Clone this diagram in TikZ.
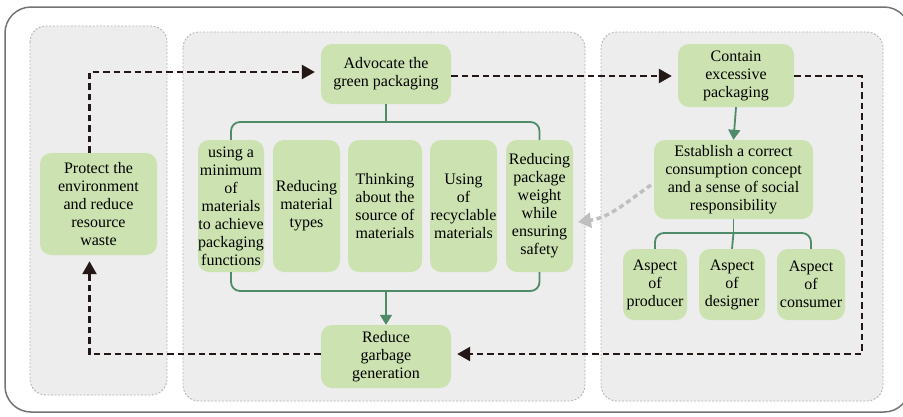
\documentclass[tikz,border=0pt]{standalone}
\usepackage{fontspec}
\setmainfont{Liberation Serif}
\usetikzlibrary{arrows.meta}
\definecolor{boxgreen}{HTML}{CCE3B1}
\definecolor{linegreen}{HTML}{4F8B68}
\definecolor{panelgray}{HTML}{EDEDED}
\definecolor{darkink}{HTML}{231815}
\newcommand{\fsz}{\fontsize{16}{18}\selectfont}
\tikzset{
  gbox/.style={fill=boxgreen, rounded corners=11pt, align=center, inner sep=0pt, font=\fsz, text=black},
  panel/.style={fill=panelgray, draw=gray!60, line width=0.9pt, dash pattern=on 1.8pt off 1.8pt, rounded corners=16pt},
  gline/.style={draw=linegreen, line width=1.8pt},
  garrow/.style={gline, -{Triangle[width=12pt,length=10pt]}},
  dline/.style={draw=darkink, line width=2.4pt, dash pattern=on 6.5pt off 4pt, -{Triangle[width=14pt,length=13pt]}, shorten >=6pt},
  grayarrow/.style={draw=gray!50, line width=3.5pt, dash pattern=on 5pt off 3.5pt, -{Triangle[width=15pt,length=13pt]}}
}
\begin{document}
\begin{tikzpicture}[x=1pt,y=-1pt]
\useasboundingbox (0,0) rectangle (903,416);
\fill[white] (0,0) rectangle (903,416);
% outer frame
\draw[draw=gray!90!black, line width=1.5pt, rounded corners=26pt] (5,7) rectangle (910,412);
% panels
\draw[panel] (30,26) rectangle (167,395);
\draw[panel] (183,32) rectangle (585,401);
\draw[panel] (601,32) rectangle (883,401);
% nodes
\node[gbox, minimum width=117pt, minimum height=102pt] (protect) at (98.5,204) {Protect the\\environment\\and reduce\\resource\\waste};
\node[gbox, minimum width=130pt, minimum height=60pt] (advocate) at (386,74) {Advocate the\\green packaging};
\node[gbox, minimum width=116pt, minimum height=63pt] (contain) at (736,75.5) {Contain\\excessive\\packaging};
\node[gbox, minimum width=159pt, minimum height=79pt] (establish) at (733.5,179.5) {Establish a correct\\consumption concept\\and a sense of social\\responsibility};
\node[gbox, minimum width=64pt, minimum height=71pt] (producer) at (655,284.5) {Aspect\\of\\producer};
\node[gbox, minimum width=66pt, minimum height=71pt] (designer) at (732,284.5) {Aspect\\of\\designer};
\node[gbox, minimum width=68pt, minimum height=71pt] (consumer) at (811,284.5) {Aspect\\of\\consumer};
\node[gbox, minimum width=130pt, minimum height=63pt] (reduce) at (386,356.5) {Reduce\\garbage\\generation};
\node[gbox, minimum width=66pt, minimum height=132pt] (box1) at (231,206) {using a\\minimum\\of\\materials\\to achieve\\packaging\\functions};
\node[gbox, minimum width=67pt, minimum height=132pt] (box2) at (306.5,206) {Reducing\\material\\types};
\node[gbox, minimum width=74pt, minimum height=132pt] (box3) at (385,206) {Thinking\\about the\\source of\\materials};
\node[gbox, minimum width=67pt, minimum height=132pt] (box4) at (463.5,206) {Using\\of\\recyclable\\materials};
\node[gbox, minimum width=67pt, minimum height=132pt] (box5) at (539.5,206) {Reducing\\package\\weight\\while\\ensuring\\safety};
% tree lines
\coordinate (ttop) at (386,122);
\coordinate (tbot) at (386,291);
\coordinate (etop) at (733.5,233);
\draw[gline] (advocate.south) -- (ttop);
\draw[gline, rounded corners=9pt] (box1.north) |- (ttop) -| (box5.north);
\draw[gline, rounded corners=9pt] (box1.south) |- (tbot) -| (box5.south);
\draw[garrow] (tbot) -- (reduce.north);
\draw[garrow] (contain.south) -- (establish.north);
\draw[gline] (establish.south) -- (etop);
\draw[gline, rounded corners=9pt] (producer.north) |- (etop) -| (consumer.north);
\draw[gline] (etop) -- (designer.north);
% dashed loop
\coordinate (yA) at (0,72);
\coordinate (yB) at (0,76);
\coordinate (cr) at (862,354);
\coordinate (pl) at (89.5,354);
\draw[dline] ([xshift=-9pt]protect.north) |- (advocate.west |- yA);
\draw[dline] (advocate.east |- yB) -- (contain.west |- yB);
\draw[dline] (contain.east |- yB) -| (cr) -- (reduce.east |- cr);
\draw[dline] (reduce.west |- cr) -- (pl) -- (pl |- protect.south);
% gray curved arrow
\coordinate (gs) at (651,185);
\coordinate (ge) at (578,222);
\draw[grayarrow] (gs) to[out=215,in=8] (ge);
\end{tikzpicture}
\end{document}
